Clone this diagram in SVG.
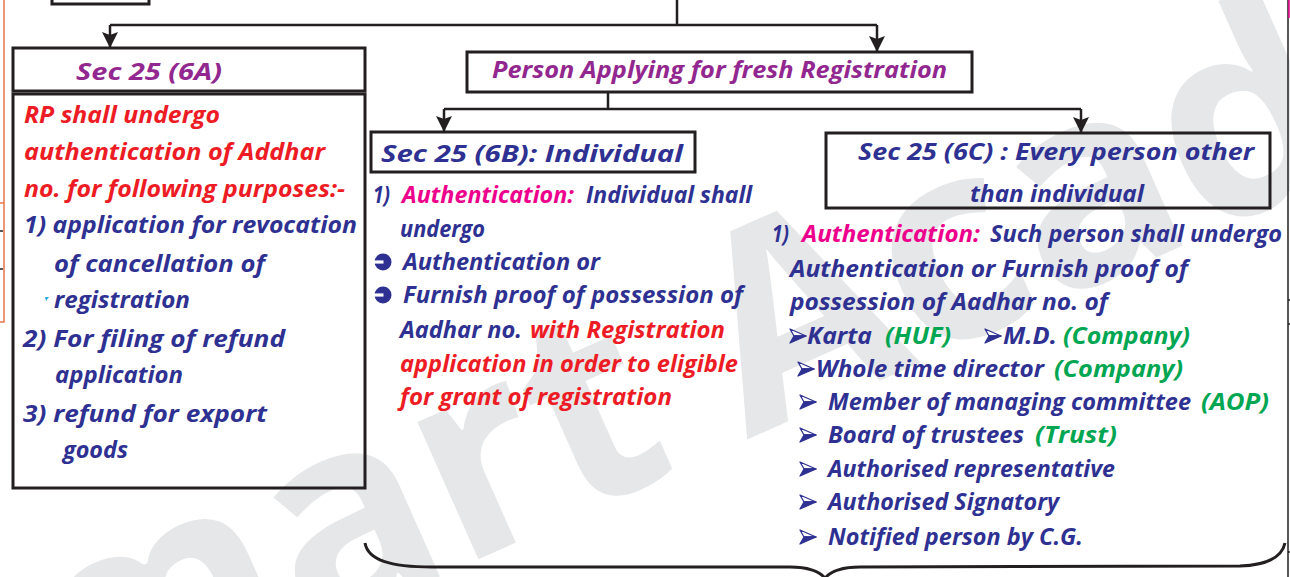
<svg xmlns="http://www.w3.org/2000/svg" width="1290" height="577" viewBox="0 0 1290 577">
<style>
.t{font-family:"Open Sans","Noto Sans","Liberation Sans",sans-serif;font-style:italic;font-weight:700;font-size:24px}
.n{fill:#2e3192}.r{fill:#ed1c24}.p{fill:#92278f}.m{fill:#ec008c}.g{fill:#00a651}
.box{fill:none;stroke:#231f20;stroke-width:3}
.ln{fill:none;stroke:#231f20;stroke-width:2.5}
.wm{font-family:"Open Sans","Liberation Sans",sans-serif;font-weight:700;font-size:275px;fill:#e6e7e8}
</style>
<defs>
<marker id="ah" markerUnits="userSpaceOnUse" markerWidth="17" markerHeight="17" refX="16" refY="8" orient="auto">
<path d="M0,0 L16,8 L0,16 L3,8 z" fill="#231f20"/>
</marker>
<g id="circ">
<circle cx="9" cy="-8" r="8.5" fill="#2e3192"/>
<rect x="-0.5" y="-9.6" width="10" height="3.2" fill="#fff"/>
</g>
<g id="tri">
<path d="M0,-15 L16,-8 L4,-8 z" fill="#fff" stroke="#2e3192" stroke-width="1.3" stroke-linejoin="round"/>
<path d="M0,-1 L16,-8 L4,-8 z" fill="#2e3192" stroke="#2e3192" stroke-width="1.3" stroke-linejoin="round"/>
</g>
</defs>
<rect width="1290" height="577" fill="#fff"/>
<g id="watermark">
<text class="wm" transform="translate(-78,807) rotate(-24)">Smart Academy</text>
</g>
<g id="edges">
<path d="M0,322 H4 V0 M0,203 H4" fill="none" stroke="#e8764a" stroke-width="1.5"/>
<path d="M0,231 H3 M0,269 H3" stroke="#231f20" stroke-width="1.5"/>
<path d="M1288,0 V577 M1288,300 H1290 M1288,324 H1290 M1288,552 H1290" fill="none" stroke="#231f20" stroke-width="1.5"/>
<path d="M1289,0 V18" stroke="#ec008c" stroke-width="1.5"/>
<path d="M45,297 L49,297 L46,301 z" fill="#29abe2"/>
</g>
<g id="node-top">
<rect class="box" x="52" y="-10" width="97" height="14"/>
</g>
<g id="connectors">
<path class="ln" d="M677,0 V25 M110,25 H877 M608,92 V109 M444,109 H1081"/>
<path class="ln" d="M110,25 V48" marker-end="url(#ah)"/>
<path class="ln" d="M877,25 V52" marker-end="url(#ah)"/>
<path class="ln" d="M444,109 V132" marker-end="url(#ah)"/>
<path class="ln" d="M1081,109 V133" marker-end="url(#ah)"/>
</g>
<g id="node-6a">
<rect class="box" x="13" y="48" width="352" height="43"/>
<rect class="box" x="13" y="94" width="352" height="394"/>
<text class="t p" x="76" y="80" textLength="146" lengthAdjust="spacingAndGlyphs">Sec 25 (6A)</text>
<text class="t r" x="24" y="123" textLength="196" lengthAdjust="spacingAndGlyphs">RP shall undergo</text>
<text class="t r" x="24" y="160" textLength="301" lengthAdjust="spacingAndGlyphs">authentication of Addhar</text>
<text class="t r" x="24" y="197" textLength="321" lengthAdjust="spacingAndGlyphs">no. for following purposes:-</text>
<text class="t n" x="24" y="233" textLength="333" lengthAdjust="spacingAndGlyphs">1) application for revocation</text>
<text class="t n" x="54" y="272" textLength="211" lengthAdjust="spacingAndGlyphs">of cancellation of</text>
<text class="t n" x="54" y="308" textLength="136" lengthAdjust="spacingAndGlyphs">registration</text>
<text class="t n" x="23" y="347" textLength="262" lengthAdjust="spacingAndGlyphs">2) For filing of refund</text>
<text class="t n" x="55" y="383" textLength="128" lengthAdjust="spacingAndGlyphs">application</text>
<text class="t n" x="23" y="422" textLength="244" lengthAdjust="spacingAndGlyphs">3) refund for export</text>
<text class="t n" x="63" y="458" textLength="65" lengthAdjust="spacingAndGlyphs">goods</text>
</g>
<g id="node-fresh">
<rect class="box" x="467" y="52" width="505" height="40"/>
<text class="t p" x="492" y="78" textLength="455" lengthAdjust="spacingAndGlyphs">Person Applying for fresh Registration</text>
</g>
<g id="node-6b">
<rect class="box" x="371" y="132" width="324" height="40"/>
<text class="t n" x="381" y="162" textLength="302" lengthAdjust="spacingAndGlyphs">Sec 25 (6B): Individual</text>
<text class="t n" x="373" y="203" textLength="17" lengthAdjust="spacingAndGlyphs">1)</text>
<text class="t m" x="402" y="203" textLength="172" lengthAdjust="spacingAndGlyphs">Authentication:</text>
<text class="t n" x="586" y="203" textLength="166" lengthAdjust="spacingAndGlyphs">Individual shall</text>
<text class="t n" x="400" y="237" textLength="85" lengthAdjust="spacingAndGlyphs">undergo</text>
<use href="#circ" x="374" y="270"/>
<text class="t n" x="403" y="270" textLength="197" lengthAdjust="spacingAndGlyphs">Authentication or</text>
<use href="#circ" x="374" y="303"/>
<text class="t n" x="403" y="303" textLength="340" lengthAdjust="spacingAndGlyphs">Furnish proof of possession of</text>
<text class="t n" x="400" y="338" textLength="122" lengthAdjust="spacingAndGlyphs">Aadhar no.</text>
<text class="t r" x="530" y="338" textLength="195" lengthAdjust="spacingAndGlyphs">with Registration</text>
<text class="t r" x="400" y="372" textLength="338" lengthAdjust="spacingAndGlyphs">application in order to eligible</text>
<text class="t r" x="400" y="405" textLength="272" lengthAdjust="spacingAndGlyphs">for grant of registration</text>
</g>
<g id="node-6c">
<rect class="box" x="826" y="133" width="444" height="75"/>
<text class="t n" x="858" y="160" textLength="396" lengthAdjust="spacingAndGlyphs">Sec 25 (6C) : Every person other</text>
<text class="t n" x="970" y="202" textLength="174" lengthAdjust="spacingAndGlyphs">than individual</text>
<text class="t n" x="772" y="242" textLength="17" lengthAdjust="spacingAndGlyphs">1)</text>
<text class="t m" x="802" y="242" textLength="178" lengthAdjust="spacingAndGlyphs">Authentication:</text>
<text class="t n" x="990" y="242" textLength="292" lengthAdjust="spacingAndGlyphs">Such person shall undergo</text>
<text class="t n" x="790" y="277" textLength="398" lengthAdjust="spacingAndGlyphs">Authentication or Furnish proof of</text>
<text class="t n" x="790" y="310" textLength="318" lengthAdjust="spacingAndGlyphs">possession of Aadhar no. of</text>
<use href="#tri" x="790" y="344"/>
<text class="t n" x="807" y="344" textLength="65" lengthAdjust="spacingAndGlyphs">Karta</text>
<text class="t g" x="885" y="344" textLength="66" lengthAdjust="spacingAndGlyphs">(HUF)</text>
<use href="#tri" x="985" y="344"/>
<text class="t n" x="1003" y="344" textLength="54" lengthAdjust="spacingAndGlyphs">M.D.</text>
<text class="t g" x="1063" y="344" textLength="127" lengthAdjust="spacingAndGlyphs">(Company)</text>
<use href="#tri" x="798" y="377"/>
<text class="t n" x="816" y="377" textLength="228" lengthAdjust="spacingAndGlyphs">Whole time director</text>
<text class="t g" x="1054" y="377" textLength="129" lengthAdjust="spacingAndGlyphs">(Company)</text>
<use href="#tri" x="800" y="410"/>
<text class="t n" x="828" y="410" textLength="363" lengthAdjust="spacingAndGlyphs">Member of managing committee</text>
<text class="t g" x="1201" y="410" textLength="68" lengthAdjust="spacingAndGlyphs">(AOP)</text>
<use href="#tri" x="800" y="443"/>
<text class="t n" x="828" y="443" textLength="196" lengthAdjust="spacingAndGlyphs">Board of trustees</text>
<text class="t g" x="1035" y="443" textLength="82" lengthAdjust="spacingAndGlyphs">(Trust)</text>
<use href="#tri" x="800" y="477"/>
<text class="t n" x="828" y="477" textLength="287" lengthAdjust="spacingAndGlyphs">Authorised representative</text>
<use href="#tri" x="800" y="510"/>
<text class="t n" x="828" y="510" textLength="231" lengthAdjust="spacingAndGlyphs">Authorised Signatory</text>
<use href="#tri" x="800" y="545"/>
<text class="t n" x="828" y="545" textLength="255" lengthAdjust="spacingAndGlyphs">Notified person by C.G.</text>
</g>
<g id="brace">
<path d="M365,543 C368,560 390,567 432,567 L790,567 C806,567 818,570 825,578 C832,570 844,567 860,567 L1240,566 C1268,565 1282,557 1285,543" fill="none" stroke="#231f20" stroke-width="3"/>
</g>
</svg>
